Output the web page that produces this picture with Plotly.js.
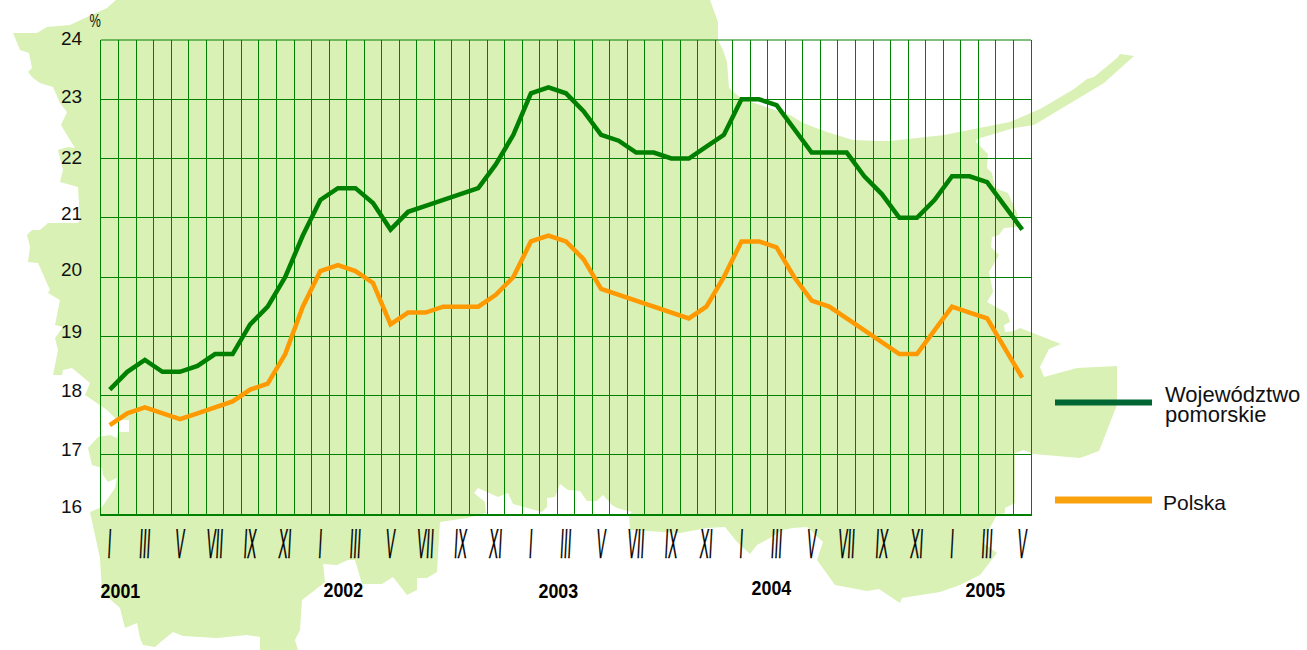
<!DOCTYPE html>
<html><head><meta charset="utf-8">
<script src="https://cdn.plot.ly/plotly-3.0.1.min.js"></script>
<style>html,body{margin:0;padding:0;background:#fff}#c{width:1307px;height:650px}</style>
</head><body><div id="c"></div>
<script>
const months = ["I","II","III","IV","V","VI","VII","VIII","IX","X","XI","XII"];
const monthIndex = Array.from({length:53},(_,i)=>i);
const pomorskie = [18.1,18.4,18.6,18.4,18.4,18.5,18.7,18.7,19.2,19.5,20.0,20.7,
 21.3,21.5,21.5,21.25,20.8,21.1,21.2,21.3,21.4,21.5,21.9,22.4,
 23.1,23.2,23.1,22.8,22.4,22.3,22.1,22.1,22.0,22.0,22.2,22.4,
 23.0,23.0,22.9,22.5,22.1,22.1,22.1,21.7,21.4,21.0,21.0,21.3,
 21.7,21.7,21.6,21.2,20.8];
const polska = [17.5,17.7,17.8,17.7,17.6,17.7,17.8,17.9,18.1,18.2,18.7,19.5,
 20.1,20.2,20.1,19.9,19.2,19.4,19.4,19.5,19.5,19.5,19.7,20.0,
 20.6,20.7,20.6,20.3,19.8,19.7,19.6,19.5,19.4,19.3,19.5,20.0,
 20.6,20.6,20.5,20.0,19.6,19.5,19.3,19.1,18.9,18.7,18.7,19.1,
 19.5,19.4,19.3,18.8,18.3];
const yearLabels = ["2001","2002","2003","2004","2005"];
const yearPosX = [0.6,13.3,25.6,37.7,49.9];
const yTicks = [16,17,18,19,20,21,22,23,24];
const yNudge = {16:-8,17:-5,18:-5,19:-5,20:-8,21:-4,22:-1,23:-3,24:-2};
// background map outline, page pixels
const mapX = [116,710,718,718,723,727,729,742,790,803,827,853,880,890,944,974,1010,1042,1074,1087,1094,1117,1120,1134,1124,1104,1084,1034,1014,977,976,988,987,992,995,1008,1017,1019,1004,999,992,991,999,989,993,987,1007,1010,1004,1005,1014,1020,1061,1049,1040,1044,1077,1117,1117,1099,1080,1033,1024,1015,1015,1005,1005,997,982,997,980,960,940,902,900,879,867,835,817,823,807,793,783,770,757,750,737,725,707,680,630,629,632,617,612,603,597,587,580,568,560,555,547,547,542,513,508,498,478,474,485,486,467,440,437,427,417,417,407,393,382,362,355,348,337,323,325,315,302,300,295,298,260,260,247,217,183,173,163,155,143,140,137,125,120,102,100,90,102,115,117,108,103,102,92,88,98,110,117,118,129,129,117,107,85,90,72,63,62,53,58,55,63,55,60,48,50,38,28,30,27,32,40,48,78,80,78,60,63,58,68,75,67,61,67,60,53,40,33,28,32,29,20,13,37,47,70,87,107,116];
const mapY = [0,0,22,40,50,62,88,99,115,123,132,140,141,141,135,129,122,108,89,79,77,58,54,56,65,83,95,125,128,139,142,154,168,173,188,193,213,227,228,235,237,247,255,272,292,302,313,322,325,332,331,328,344,349,367,377,368,366,405,451,458,454,450,453,503,508,513,515,542,553,575,585,592,598,603,589,591,585,560,542,527,528,530,538,545,554,542,527,528,533,530,515,512,508,505,495,501,501,491,490,484,497,498,507,512,504,493,497,488,493,502,513,518,522,572,578,578,590,595,577,584,584,560,560,565,564,582,590,600,630,640,650,650,637,635,638,636,632,640,647,645,638,623,628,608,592,558,512,507,488,478,482,475,468,465,448,437,435,438,432,432,420,420,410,395,383,368,370,375,375,350,338,327,325,300,293,290,263,262,247,235,230,230,223,223,220,187,182,170,150,147,148,135,125,112,103,87,83,78,72,68,53,50,33,33,27,25,17,8,0];

const PL=101, PR=1031, PT=40, PB=514;
const px = x => (x-PL)/(PR-PL);
const py = y => (PB-y)/(PB-PT);
const mapPath = mapX.map((x,i)=>(i?'L':'M')+px(x).toFixed(5)+','+py(mapY[i]).toFixed(5)).join(' ')+' Z';

const tickvals = monthIndex.filter(i=>i%2===0);
const ticktext = tickvals.map(i=>months[i%12]);

const traces = [
 {x:monthIndex,y:pomorskie,mode:'lines',line:{color:'#008000',width:4.5,shape:'linear'},name:'Województwo pomorskie',showlegend:false,hoverinfo:'skip'},
 {x:monthIndex,y:polska,mode:'lines',line:{color:'#FF9900',width:4.5,shape:'linear'},name:'Polska',showlegend:false,hoverinfo:'skip'}
];
const F='"Liberation Sans", Arial, sans-serif';
const ann=(text,x,y,size,opts)=>Object.assign({text,x,y,xref:'paper',yref:'paper',showarrow:false,xanchor:'left',yanchor:'middle',align:'left',font:{family:F,size,color:'#111'}},opts||{});
const annotations = [
 ann('%',px(86),py(21),16,{}),
 ann('Województwo<br>pomorskie',px(1163),py(408.5),22,{}),
 ann('Polska',px(1161),py(502),21,{})
].concat(yearLabels.map((t,i)=>({text:'<b>'+t+'</b>',x:yearPosX[i],y:py([590,589,590,587,589][i]),xref:'x',yref:'paper',showarrow:false,xanchor:'center',yanchor:'middle',font:{family:F,size:21,color:'#000'}})));

const layout = {
 width:1307,height:650,margin:{l:PL,r:1307-PR,t:PT,b:650-PB,pad:0},
 paper_bgcolor:'#fff',plot_bgcolor:'rgba(0,0,0,0)',showlegend:false,
 xaxis:{range:[-0.5,52.5],tickmode:'array',tickvals,ticktext,showgrid:false,zeroline:false,ticks:'',
   showline:true,linecolor:'#008000',linewidth:2,
   tickfont:{family:F,size:20,color:'#000'},tickangle:0,
   minor:{tick0:-0.5,dtick:1,showgrid:true,gridcolor:'#008000',gridwidth:1,ticks:''}},
 yaxis:{range:[16,24],tickmode:'array',tickvals:yTicks,showgrid:true,gridcolor:'#008000',gridwidth:1,zeroline:false,ticks:'',
   showline:true,mirror:true,linecolor:'#008000',linewidth:1,ticklen:0,
   tickfont:{family:F,size:19,color:'#111'},automargin:false},
 shapes:[
  {type:'path',path:mapPath,xref:'paper',yref:'paper',fillcolor:'#D9F1B5',line:{width:0},layer:'below'},
  {type:'line',xref:'paper',yref:'paper',x0:0,x1:1,y0:1,y1:1,line:{color:'#008000',width:1}},
  {type:'line',xref:'paper',yref:'paper',x0:px(1055),x1:px(1152),y0:py(402.5),y1:py(402.5),line:{color:'#006633',width:6}},
  {type:'line',xref:'paper',yref:'paper',x0:px(1055),x1:px(1152),y0:py(500),y1:py(500),line:{color:'#F9A20E',width:7}}
 ],
 annotations
};
function squeeze(el,sx,sy,dx,dy,skew){
 const b=el.getBBox(),cx=b.x+b.width/2,cy=b.y+b.height/2,old=el.getAttribute('transform')||'';
 el.setAttribute('transform',old+` translate(${cx+dx},${cy+dy}) skewX(${skew}) scale(${sx},${sy}) translate(${-cx},${-cy})`);
}
Plotly.newPlot('c',traces,layout,{staticPlot:true,displayModeBar:false}).then(gd=>{
 gd.querySelectorAll('.xtick text').forEach(t=>{
   squeeze(t,0.68,2.1,0,10,-3);
   t.style.stroke='#000';t.style.strokeWidth='0.2px';
 });
 gd.querySelectorAll('.ytick text').forEach(t=>{
   const v=parseInt(t.textContent,10);
   squeeze(t,1,1,-14,yNudge[v]||0,0);
 });
 gd.querySelectorAll('.annotation-text').forEach(t=>{
   if(/^20/.test(t.textContent)) squeeze(t,0.85,1,0,0,0);
   if(t.textContent==='%') squeeze(t,0.8,1.1,0,0,0);
   const lines=t.querySelectorAll('tspan.line');
   if(lines.length===2) lines[1].setAttribute('dy','0.9em');
 });
});
</script></body></html>
